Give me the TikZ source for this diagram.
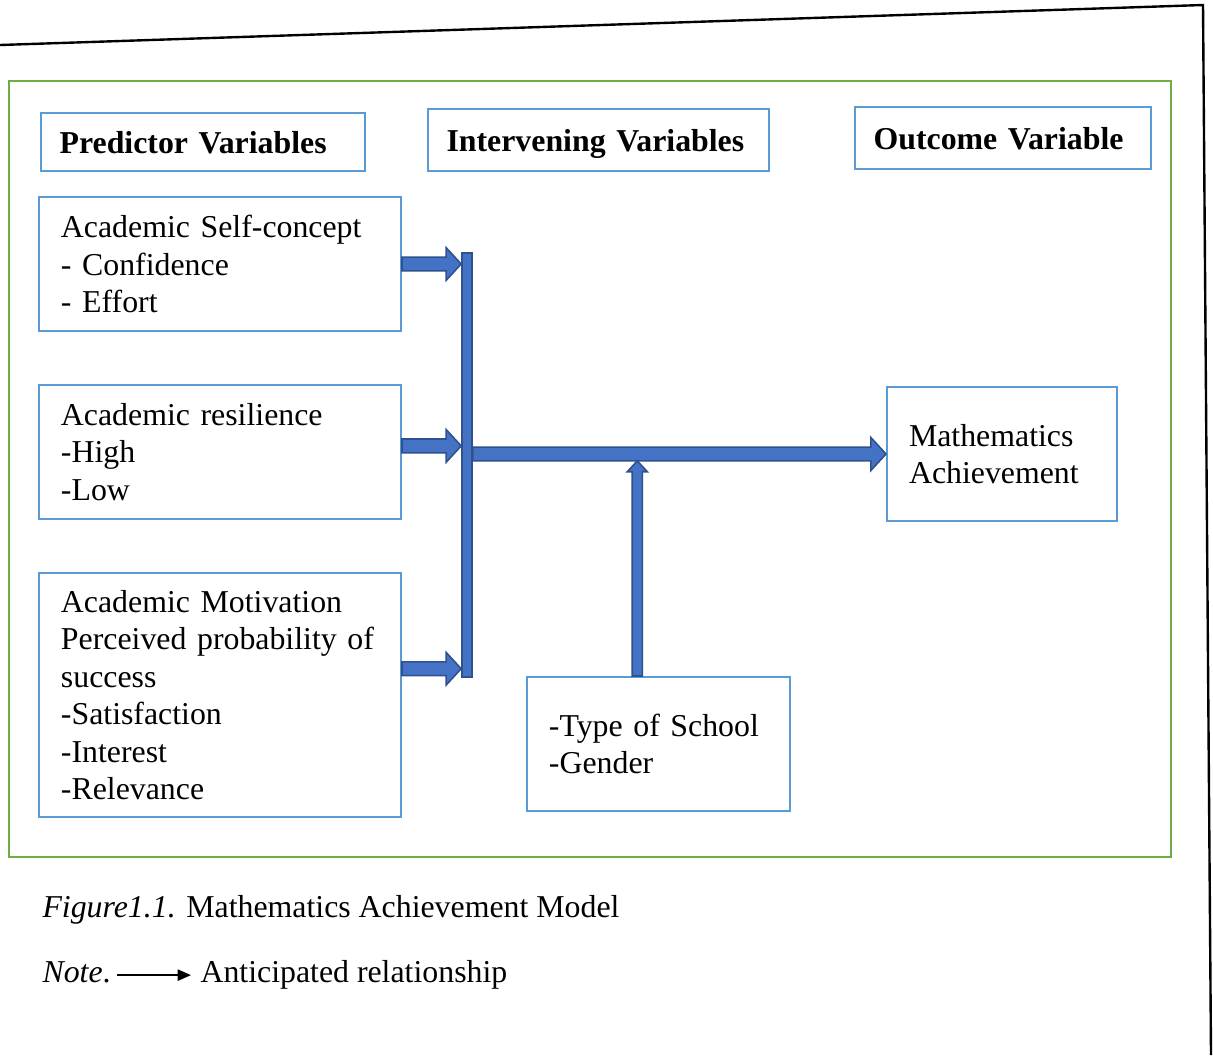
\documentclass[tikz,border=0pt]{standalone}
\usepackage{fontspec}
\setmainfont{Liberation Serif}
\usetikzlibrary{arrows.meta,positioning,calc}

\definecolor{boxblue}{RGB}{91,155,213}
\definecolor{barfill}{RGB}{68,114,196}
\definecolor{barline}{RGB}{47,82,143}
\definecolor{framegreen}{RGB}{112,173,71}

\begin{document}
\begin{tikzpicture}[x=0.377pt, y=-0.377pt, font=\fontsize{12}{14.1}\selectfont, every node/.style={align=left}]

% styles
\tikzset{
  heading/.style={rectangle, draw=boxblue, line width=0.75pt, inner xsep=7pt, inner ysep=0pt, text height=9pt, text depth=0pt, font=\fontsize{12}{14.1}\selectfont\bfseries},
  varbox/.style={rectangle, draw=boxblue, line width=0.75pt, inner xsep=8.3pt, inner ysep=0pt, minimum height=50.5pt},
  barstyle/.style={rectangle, draw=barline, fill=barfill, line width=0.6pt, inner sep=0pt},
  fat arrow/.style n args={3}{draw=barline, fill=barfill, line width=0.6pt, line join=miter, to path={
    ($(\tikztostart)!#1!90:(\tikztotarget)$)
    -- ($(\tikztotarget)!#3!(\tikztostart)!#1!90:(\tikztotarget)$)
    -- ($(\tikztotarget)!#3!(\tikztostart)!#2!90:(\tikztotarget)$)
    -- (\tikztotarget)
    -- ($(\tikztotarget)!#3!(\tikztostart)!#2!-90:(\tikztotarget)$)
    -- ($(\tikztotarget)!#3!(\tikztostart)!#1!-90:(\tikztotarget)$)
    -- ($(\tikztostart)!#1!-90:(\tikztotarget)$)
    -- cycle}},
  big arrow/.style={fat arrow={2.6pt}{6.2pt}{5.7pt}},
  thin arrow/.style={fat arrow={1.9pt}{3.8pt}{4.1pt}},
  frame/.style={draw=framegreen, line width=1.1pt},
  notearrow/.style={-{Triangle[length=5pt,width=4.2pt]}, line width=0.75pt}
}

\useasboundingbox (0,0) rectangle (1213,1055);

% page edge and panel
\draw[line width=0.9pt] (0,45) -- (1203,5) -- (1211,1055);
\draw[frame] (9,81) rectangle (1171,857);

% column headings
\node[heading, text width=108.1pt, minimum height=21.9pt] (hpred) at (203,142) {Predictor Variables};
\node[heading, text width=114.6pt, minimum height=23.4pt] (hint) at (598.5,140) {Intervening Variables};
\node[heading, text width=97.6pt, minimum height=23.4pt] (hout) at (1003,138) {Outcome Variable};

% variable boxes
\node[varbox, text width=119.9pt] (selfc) at (220,264) {Academic Self-concept\\- Confidence\\- Effort};
\node[varbox, text width=119.9pt] (resil) at (220,452) {Academic resilience\\-High\\-Low};
\node[varbox, text width=119.9pt, minimum height=92pt] (motiv) at (220,695) {Academic Motivation\\Perceived probability of\\success\\-Satisfaction\\-Interest\\-Relevance};
\node[varbox, text width=70.1pt] (maths) at (1002,454) {Mathematics\\Achievement};
\node[varbox, text width=82.6pt] (school) at (658.5,744) {-Type of School\\-Gender};

% collecting bar
\node[barstyle, minimum width=3.8pt, minimum height=159.8pt] (bar) at (467,465) {};

% connector coordinates
\coordinate (r2) at ([yshift=2.3pt]resil.east);
\coordinate (t3) at ([yshift=3.4pt]bar.south west);
\coordinate (v0) at ([xshift=-8pt]school.north);
\coordinate (mainlow) at ([yshift=-2.6pt]maths.west);

\draw[big arrow] (selfc.east) to (selfc.east -| bar.west);
\draw[big arrow] (r2) to (r2 -| bar.west);
\draw[big arrow] (t3 -| motiv.east) to (t3);
\draw[thin arrow] (v0) to (v0 |- mainlow);
\draw[big arrow] (maths.west -| bar.east) to (maths.west);

% caption and note
\node[anchor=base west, inner sep=0pt] (caption) at (42,917) {\textit{Figure1.1.} Mathematics Achievement Model};
\node[anchor=base west, inner sep=0pt] (note) at (42,982) {\textit{Note}.};
\node[anchor=base west, inner sep=0pt] (antic) at (200,982) {Anticipated relationship};
\draw[notearrow, shorten <=2.2pt, shorten >=3.4pt] ([yshift=2.6pt]note.base east) -- ([yshift=2.6pt]antic.base west);

\end{tikzpicture}
\end{document}
